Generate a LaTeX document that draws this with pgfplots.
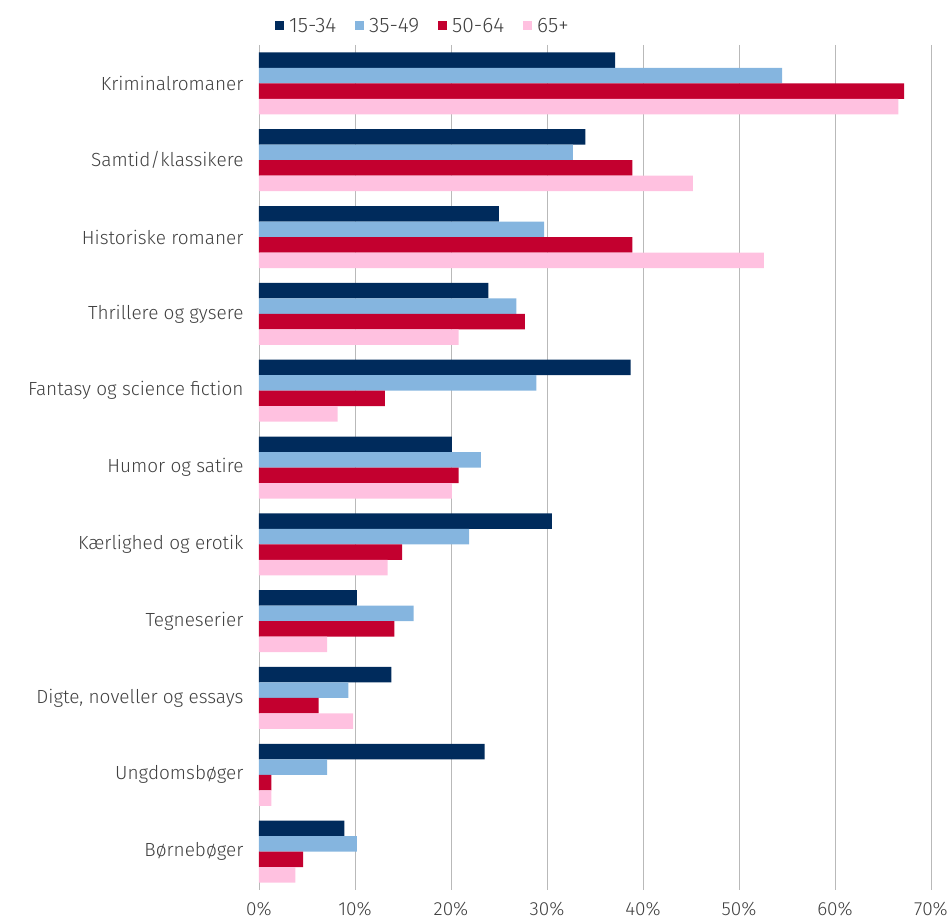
\documentclass[border=0pt]{standalone}
\usepackage{pgfplots}
\pgfplotsset{compat=1.18}
\usepackage{fontspec}
\setmainfont{Fira Sans}[UprightFont=* Light]
\definecolor{cA}{HTML}{002B5C}
\definecolor{cB}{HTML}{85B5DF}
\definecolor{cC}{HTML}{C3002F}
\definecolor{cD}{HTML}{FFC1E0}
\definecolor{txt}{HTML}{404040}
\begin{document}
\begin{tikzpicture}
\useasboundingbox (-259pt,-30pt) rectangle (691pt,890pt);
\begin{axis}[
  scale only axis, width=672pt, height=845pt,
  xbar=0pt, bar width=15.5pt,
  xmin=0, xmax=70, ymin=-0.5, ymax=10.5, y dir=reverse,
  ytick={0,...,10},
  yticklabels={Kriminalromaner,Samtid/klassikere,Historiske romaner,Thrillere og gysere,Fantasy og science fiction,Humor og satire,Kærlighed og erotik,Tegneserier,{Digte, noveller og essays},Ungdomsbøger,Børnebøger},
  xtick={0,10,...,70},
  xticklabel={\pgfmathprintnumber{\tick}\%},
  /pgf/number format/assume math mode=true,
  xmajorgrids, grid style={gray!55, line width=0.8pt},
  axis line style={draw=none}, major tick length=0pt,
  tick label style={font=\fontsize{19}{22}\selectfont, text=txt},
  yticklabel style={xshift=-12pt},
  xticklabel style={yshift=-8.5pt},
  legend columns=4,
  legend style={draw=none, at={(0.244,1)}, anchor=south, yshift=7pt,
    font=\fontsize{21}{24}\selectfont, text=txt,
    /tikz/every odd column/.append style={column sep=3pt},
    /tikz/every even column/.append style={column sep=17pt}},
  legend image code/.code={\path[#1] (0pt,-4.5pt) rectangle (9pt,4.5pt);},
]
\addplot[fill=cA, draw=none, bar shift=23.25pt] coordinates {(37.1,0) (34.0,1) (25.0,2) (23.9,3) (38.7,4) (20.1,5) (30.5,6) (10.2,7) (13.8,8) (23.5,9) (8.9,10)};
\addplot[fill=cB, draw=none, bar shift=7.75pt] coordinates {(54.5,0) (32.7,1) (29.7,2) (26.8,3) (28.9,4) (23.1,5) (21.9,6) (16.1,7) (9.3,8) (7.1,9) (10.2,10)};
\addplot[fill=cC, draw=none, bar shift=-7.75pt] coordinates {(67.2,0) (38.9,1) (38.9,2) (27.7,3) (13.1,4) (20.8,5) (14.9,6) (14.1,7) (6.2,8) (1.3,9) (4.6,10)};
\addplot[fill=cD, draw=none, bar shift=-23.25pt] coordinates {(66.6,0) (45.2,1) (52.6,2) (20.8,3) (8.2,4) (20.1,5) (13.4,6) (7.1,7) (9.8,8) (1.3,9) (3.8,10)};
\legend{15-34,35-49,50-64,65+}
\end{axis}
\end{tikzpicture}
\end{document}
